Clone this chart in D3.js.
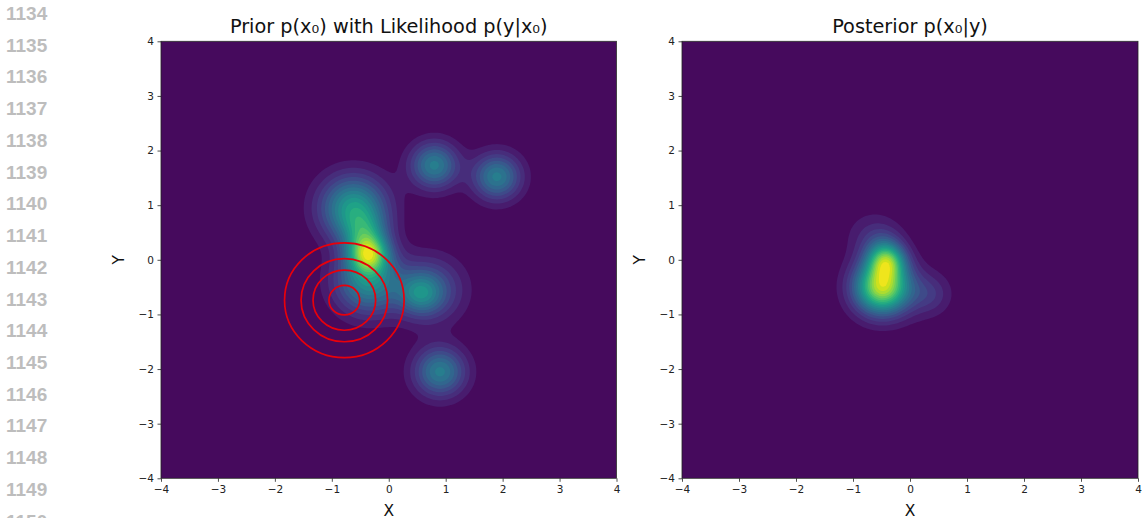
<!DOCTYPE html>
<html>
<head>
<meta charset="utf-8">
<script src="https://cdn.jsdelivr.net/npm/d3@7"></script>
<style>
  body { margin: 0; background: #fff; }
  svg { display: block; }
</style>
</head>
<body>
<div id="chart"></div>
<script>
// notebook gutter line numbers
let lineNumbers = ["1134", "1135", "1136", "1137", "1138", "1139", "1140", "1141",
  "1142", "1143", "1144", "1145", "1146", "1147", "1148", "1149", "1150"]

let tickValues = [-4, -3, -2, -1, 0, 1, 2, 3, 4]

// prior p(x0): gaussian bumps
let priorX      = [-0.62, -0.42, -0.35, -0.36, 0.55, 0.72, 0.80, 1.90, 0.90]
let priorY      = [ 0.95,  0.50,  0.10, -0.40, -0.62, -0.55, 1.73, 1.52, -2.05]
let priorSigma  = [ 0.40,  0.27,  0.24,  0.40, 0.25, 0.40, 0.29, 0.29, 0.31]
let priorHeight = [ 0.52,  0.28,  0.62,  0.45, 0.25, 0.26, 0.40, 0.40, 0.40]

// likelihood p(y|x0)
let likelihoodCenter = [-0.78, -0.74]
let likelihoodSigma = 0.6
let likelihoodRadii = [0.27, 0.55, 0.76, 1.05]

let nLevels = 20
let n = 200

let width = 1142, height = 518
let panels = [
  {left: 161, right: 616.5, title: "Prior p(x\u2080) with Likelihood p(y|x\u2080)", kind: "prior"},
  {left: 682, right: 1138, title: "Posterior p(x\u2080|y)", kind: "posterior"}
]
let plotTop = 41.3, plotBottom = 478.3

let svg = d3.select("#chart")
  .append("svg")
  .attr("width", width)
  .attr("height", height)
  .style("font-family", "DejaVu Sans, sans-serif")

// gutter
svg.append("g")
  .selectAll("text")
  .data(lineNumbers)
  .enter()
  .append("text")
  .attr("x", 6)
  .attr("y", function(d, i) { return 20 + i * 31.73; })
  .attr("fill", "#bdbdbd")
  .attr("font-family", "Liberation Sans, Arial, sans-serif")
  .attr("font-weight", "bold")
  .attr("font-size", 19)
  .text(function(d) { return d; })

function prior(x, y) {
  let s = 0
  for (let k = 0; k < priorX.length; k++) {
    let dx = x - priorX[k], dy = y - priorY[k]
    s += priorHeight[k] * Math.exp(-(dx*dx + dy*dy) / (2 * priorSigma[k] * priorSigma[k]))
  }
  return s
}

function likelihood(x, y) {
  let dx = x - likelihoodCenter[0], dy = y - likelihoodCenter[1]
  return Math.exp(-(dx*dx + dy*dy) / (2 * likelihoodSigma * likelihoodSigma))
}

function posterior(x, y) {
  return prior(x, y) * likelihood(x, y)
}

function gridValues(f) {
  let values = new Array(n * n)
  for (let j = 0; j < n; j++) {
    for (let i = 0; i < n; i++) {
      let x = -4 + 8 * (i + 0.5) / n
      let y = 4 - 8 * (j + 0.5) / n
      values[j * n + i] = f(x, y)
    }
  }
  return values
}

// filled band k goes from level k to level k+1, coloured at its middle
function bandColor(k) {
  return d3.interpolateViridis((k + 0.5) / nLevels)
}

panels.forEach(function(p, pi) {
  let xScale = d3.scaleLinear().domain([-4, 4]).range([p.left, p.right])
  let yScale = d3.scaleLinear().domain([-4, 4]).range([plotBottom, plotTop])
  let g = svg.append("g")

  let clipId = "clip" + pi
  g.append("clipPath").attr("id", clipId)
    .append("rect")
    .attr("x", p.left).attr("y", plotTop)
    .attr("width", p.right - p.left).attr("height", plotBottom - plotTop)

  let plot = g.append("g").attr("clip-path", "url(#" + clipId + ")")

  plot.append("rect")
    .attr("x", p.left).attr("y", plotTop)
    .attr("width", p.right - p.left).attr("height", plotBottom - plotTop)
    .attr("fill", bandColor(0))

  let values = gridValues(p.kind === "prior" ? prior : posterior)
  let vmax = d3.max(values)
  let thresholds = d3.range(1, nLevels).map(function(k) { return k * vmax / nLevels; })

  let projection = d3.geoTransform({
    point: function(px, py) {
      this.stream.point(xScale(-4 + 8 * px / n), yScale(4 - 8 * py / n))
    }
  })
  let path = d3.geoPath(projection)

  plot.selectAll("path.band")
    .data(d3.contours().size([n, n]).thresholds(thresholds)(values))
    .enter()
    .append("path")
    .attr("class", "band")
    .attr("d", path)
    .attr("fill", function(d, i) { return bandColor(i + 1); })

  if (p.kind === "prior") {
    plot.selectAll("ellipse")
      .data(likelihoodRadii)
      .enter()
      .append("ellipse")
      .attr("cx", xScale(likelihoodCenter[0]))
      .attr("cy", yScale(likelihoodCenter[1]))
      .attr("rx", function(r) { return xScale(r) - xScale(0); })
      .attr("ry", function(r) { return yScale(0) - yScale(r); })
      .attr("fill", "none")
      .attr("stroke", "#e8000b")
      .attr("stroke-width", 1.7)
  }

  // spines
  g.append("rect")
    .attr("x", p.left).attr("y", plotTop)
    .attr("width", p.right - p.left).attr("height", plotBottom - plotTop)
    .attr("fill", "none")
    .attr("stroke", "#222")
    .attr("stroke-width", 0.8)

  let fmt = d3.format("d")
  let xAxis = g.append("g")
    .attr("transform", "translate(0," + plotBottom + ")")
    .call(d3.axisBottom(xScale).tickValues(tickValues).tickFormat(fmt).tickSize(3.5).tickPadding(3.5))
  let yAxis = g.append("g")
    .attr("transform", "translate(" + p.left + ",0)")
    .call(d3.axisLeft(yScale).tickValues(tickValues).tickFormat(fmt).tickSize(3.5).tickPadding(3.5))
  ;[xAxis, yAxis].forEach(function(a) {
    a.select(".domain").remove()
    a.selectAll("line").attr("stroke", "#222").attr("stroke-width", 0.8)
    a.selectAll("text")
      .attr("font-family", "DejaVu Sans, sans-serif")
      .attr("font-size", 10.5)
      .attr("fill", "#222")
  })

  g.append("text")
    .attr("x", (p.left + p.right) / 2)
    .attr("y", 33)
    .attr("text-anchor", "middle")
    .attr("font-size", 19.3)
    .attr("fill", "#111")
    .text(p.title)

  g.append("text")
    .attr("x", (p.left + p.right) / 2)
    .attr("y", 515.5)
    .attr("text-anchor", "middle")
    .attr("font-size", 15.5)
    .attr("fill", "#111")
    .text("X")

  g.append("text")
    .attr("transform", "translate(" + (p.left - 37) + "," + ((plotTop + plotBottom) / 2) + ") rotate(-90)")
    .attr("text-anchor", "middle")
    .attr("font-size", 15.5)
    .attr("fill", "#111")
    .text("Y")
})
</script>
</body>
</html>
